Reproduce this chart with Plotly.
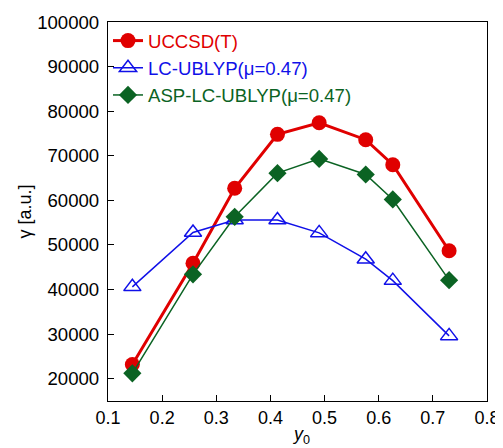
import plotly.graph_objects as go

y0 = [0.145, 0.257, 0.334, 0.413, 0.490, 0.576, 0.626, 0.730]
uccsd_t = [23200, 45900, 62700, 74800, 77400, 73600, 68000, 48700]
lc_ublyp = [40600, 52800, 55600, 55600, 52700, 46800, 42000, 29600]
asp_lc_ublyp = [21200, 43400, 56300, 66100, 69300, 65800, 60200, 42100]

RED = "#e00000"
BLUE = "#1010e8"
GREEN = "#0b6323"
FONT = "Liberation Sans, Arial, Helvetica, sans-serif"

fig = go.Figure()
fig.add_trace(go.Scatter(
    x=y0, y=uccsd_t, mode="lines+markers",
    name=f"<span style='color:{RED}'>UCCSD(T)</span>",
    line=dict(color=RED, width=3),
    marker=dict(symbol="circle", size=15, color=RED),
))
fig.add_trace(go.Scatter(
    x=y0, y=lc_ublyp, mode="lines+markers",
    name=f"<span style='color:{BLUE}'>LC-UBLYP(μ=0.47)</span>",
    line=dict(color=BLUE, width=1.5),
    marker=dict(symbol="triangle-up-open", size=15, color=BLUE, line=dict(width=1.5, color=BLUE)),
))
fig.add_trace(go.Scatter(
    x=y0, y=asp_lc_ublyp, mode="lines+markers",
    name=f"<span style='color:{GREEN}'>ASP-LC-UBLYP(μ=0.47)</span>",
    line=dict(color=GREEN, width=1.5),
    marker=dict(symbol="diamond", size=14, color=GREEN),
))

fig.update_layout(
    width=495, height=440,
    margin=dict(l=100, r=16, t=14, b=47),
    plot_bgcolor="white", paper_bgcolor="white",
    font=dict(family=FONT, size=17, color="black"),
    showlegend=True,
    legend=dict(x=0.0, y=1.0, xanchor="left", yanchor="top",
                bgcolor="rgba(0,0,0,0)", borderwidth=0,
                font=dict(size=18.6), tracegroupgap=0,
                itemwidth=30),
    annotations=[
        dict(text="<i>y</i><sub>0</sub>", x=0.51, y=-0.055, xref="paper", yref="paper",
             xanchor="center", yanchor="top", showarrow=False, font=dict(size=18)),
    ],
)
fig.update_xaxes(
    range=[0.1, 0.8], dtick=0.1, tick0=0.1, tickformat=".1f",
    ticks="inside", ticklen=6, tickcolor="black", tickfont=dict(size=18),
    showline=True, linecolor="black", linewidth=1.2, mirror=True,
    showgrid=False, zeroline=False, automargin=False,
)
fig.update_yaxes(
    range=[15000, 100000], dtick=10000, tick0=0, tickformat="d",
    ticks="inside", ticklen=6, tickcolor="black", tickfont=dict(size=18.6),
    ticklabelstandoff=4,
    showline=True, linecolor="black", linewidth=1.2, mirror=True,
    showgrid=False, zeroline=False, automargin=False,
    title=dict(text="γ [a.u.]", standoff=0, font=dict(size=18)),
)

fig.write_html("out.html")
